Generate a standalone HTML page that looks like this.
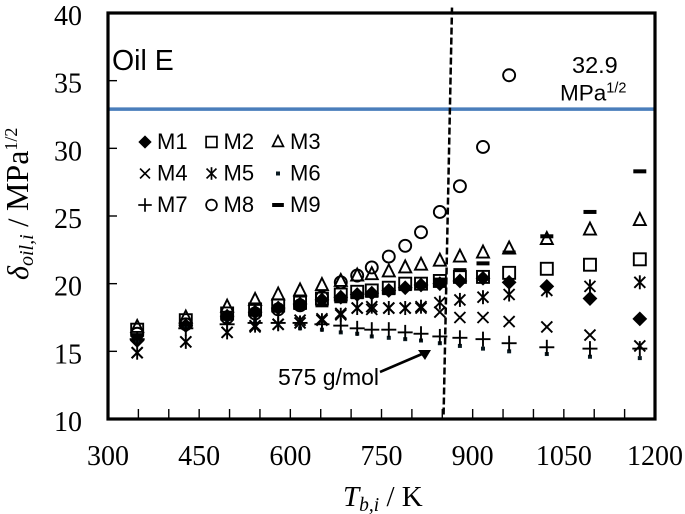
<!DOCTYPE html>
<html>
<head>
<meta charset="utf-8">
<style>
html,body{margin:0;padding:0;background:#fff;width:685px;height:514px;overflow:hidden}
svg{display:block}
.tick{font:28px "Liberation Serif",serif;fill:#000}
.sans{font-family:"Liberation Sans",sans-serif;fill:#000}
.serif{font-family:"Liberation Serif",serif;fill:#000}
</style>
</head>
<body>
<svg id="chart" width="685" height="514" viewBox="0 0 685 514" xmlns="http://www.w3.org/2000/svg">
<g id="ticks"></g>
<g id="marks"></g>
<line id="blue-line" stroke="#4a7ebb" stroke-width="3.5"></line>
<line id="dash-line" stroke="#000" stroke-width="2.5" stroke-dasharray="7 3"></line>
<rect id="frame" fill="none" stroke="#000" stroke-width="3.2"></rect>
<g id="legend"></g>
<text class="sans" x="112" y="70" font-size="28.5">Oil E</text>
<text class="sans" x="572" y="73" font-size="23.5">32.9</text>
<text class="sans" x="560" y="100.5" font-size="22.5">MPa<tspan font-size="14.5" dy="-8">1/2</tspan></text>
<text class="sans" x="278" y="385" font-size="23">575 g/mol</text>
<g>
<line x1="380" y1="372" x2="422" y2="354" stroke="#000" stroke-width="2.6"></line>
<polygon points="431,350 418,350 425,360" fill="#000"></polygon>
</g>
<text class="serif" x="343" y="506" font-size="29"><tspan font-style="italic">T</tspan><tspan font-style="italic" font-size="19.5" dy="5">b,i</tspan><tspan dy="-5"> / K</tspan></text>
<text class="serif" transform="translate(28,280) rotate(-90)" font-size="30"><tspan font-style="italic">δ</tspan><tspan font-style="italic" font-size="20" dy="5">oil,i</tspan><tspan dy="-5"> / </tspan><tspan font-size="32">MPa</tspan><tspan font-size="18" dy="-11">1/2</tspan></text>
</svg>
<script>
var tbValues = [348,428,496,542,580,616,652,683,710,734,762,789,815,846,879,917,960,1022,1093,1175];
var m1Values = [15.8,16.9,17.6,17.9,18.2,18.5,18.8,19.0,19.2,19.3,19.5,19.7,19.9,20.0,20.2,20.4,20.1,19.8,18.9,17.4];
var m2Values = [16.6,17.3,17.8,18.1,18.4,18.6,18.9,19.2,19.4,19.5,19.7,20.0,20.0,20.2,20.5,20.5,20.8,21.1,21.4,21.8];
var m3Values = [16.8,17.5,18.3,18.8,19.2,19.5,19.9,20.2,20.6,20.7,20.9,21.2,21.4,21.7,22.0,22.3,22.6,23.3,24.0,24.7];
var m4Values = [14.9,15.7,16.4,16.8,17.0,17.3,17.4,17.8,18.2,18.1,18.2,18.2,18.2,17.9,17.5,17.5,17.2,16.8,16.2,15.4];
var m5Values = [14.9,15.7,16.4,16.9,17.0,17.1,17.3,17.7,18.2,18.3,18.2,18.2,18.3,18.6,18.8,19.0,19.2,19.5,19.8,20.1];
var m6Values = [15.8,16.9,17.2,17.2,17.0,16.7,16.6,16.4,16.3,16.1,16.0,15.9,15.8,15.6,15.4,15.2,15.0,14.8,14.6,14.5];
var m7Values = [15.9,16.7,17.0,17.1,17.1,17.1,17.0,16.9,16.7,16.6,16.6,16.4,16.3,16.1,16.0,15.9,15.6,15.3,15.2,15.2];
var m8Values = [16.3,17.0,17.5,17.8,18.1,18.4,19.0,20.1,20.6,21.2,22.0,22.8,23.8,25.3,27.2,30.1,35.4,null,null,null];
var m9Values = [16.2,17.0,17.4,17.7,18.0,18.2,18.4,18.7,19.0,19.1,19.3,19.6,19.8,20.3,21.0,21.5,22.3,23.5,25.3,28.3];
var seriesNames = ['M1','M2','M3','M4','M5','M6','M7','M8','M9'];
var xTickLabels = [300,450,600,750,900,1050,1200];
var yTickLabels = [10,15,20,25,30,35,40];
var xMinorTicks = [350,400,450,500,550,600,650,700,750,800,850,900,950,1000,1050,1100,1150];
var referenceValue = [32.9];
var boundaryTop = [40.4, 866];
var boundaryBottom = [10, 852];

var NS = 'http://www.w3.org/2000/svg';
var L = 108, R = 655, T = 13, B = 419;
function xScale(v){ return L + (v - 300) * (R - L) / 900; }
function yScale(v){ return B - (v - 10) * (B - T) / 30; }
function make(tag, attrs, parent){
  var el = document.createElementNS(NS, tag);
  for (var k in attrs) el.setAttribute(k, attrs[k]);
  parent.appendChild(el);
  return el;
}
function drawMarker(type, x, y, g, s){
  var sw = 1.9 * s, r;
  var stroke = {fill:'none', stroke:'#000', 'stroke-width':sw};
  function seg(x1,y1,x2,y2){
    make('line', {x1:x+x1*s, y1:y+y1*s, x2:x+x2*s, y2:y+y2*s, stroke:'#000', 'stroke-width':sw}, g);
  }
  if (type === 'M1') {
    r = 7.4 * s;
    make('polygon', {points:[x,y-r,x+r,y,x,y+r,x-r,y].join(' '), fill:'#000'}, g);
  } else if (type === 'M2') {
    r = 6 * s;
    make('rect', {x:x-r, y:y-r, width:2*r, height:2*r, fill:'none', stroke:'#000', 'stroke-width':sw}, g);
  } else if (type === 'M3') {
    r = 6 * s;
    make('polygon', Object.assign({points:[x,y-r-1,x+r,y+r-1,x-r,y+r-1].join(' ')}, stroke), g);
  } else if (type === 'M4') {
    seg(-5.5,-5.5,5.5,5.5); seg(-5.5,5.5,5.5,-5.5);
  } else if (type === 'M5') {
    seg(-5.5,-5.5,5.5,5.5); seg(-5.5,5.5,5.5,-5.5); seg(0,-7,0,7);
  } else if (type === 'M6') {
    make('rect', {x:x-2, y:y-2, width:4, height:4, fill:'#0a1a22'}, g);
  } else if (type === 'M7') {
    seg(-7.5,0,7.5,0); seg(0,-7.5,0,7.5);
  } else if (type === 'M8') {
    make('circle', Object.assign({cx:x, cy:y, r:6 * s}, stroke), g);
  } else if (type === 'M9') {
    make('rect', {x:x-6.5*s, y:y-2, width:13*s, height:4, fill:'#000'}, g);
  }
}

var ticksG = document.getElementById('ticks');
xMinorTicks.forEach(function(v){
  var t = make('line', {x1:xScale(v), x2:xScale(v), y1:B, y2:B-10, stroke:'#000', 'stroke-width':1.4}, ticksG);
  
  
});
yTickLabels.forEach(function(v){
  var t = make('line', {x1:L, x2:L+9, y1:yScale(v), y2:yScale(v), stroke:'#000', 'stroke-width':1.4}, ticksG);
  
  
  var lab = make('text', {x:82, y:yScale(v)+12, 'text-anchor':'end', 'class':'tick'}, ticksG);
  lab.textContent = v;
  
  
});
xTickLabels.forEach(function(v){
  var lab = make('text', {x:xScale(v), y:465, 'text-anchor':'middle', 'class':'tick'}, ticksG);
  lab.textContent = v;
  
  
});

var frame = document.getElementById('frame');
frame.setAttribute('x', L); frame.setAttribute('y', T);
frame.setAttribute('width', R - L); frame.setAttribute('height', B - T);

var blue = document.getElementById('blue-line');
blue.setAttribute('x1', L); blue.setAttribute('x2', R);
blue.setAttribute('y1', yScale(referenceValue[0])); blue.setAttribute('y2', yScale(referenceValue[0]));

var dash = document.getElementById('dash-line');
dash.setAttribute('x1', xScale(boundaryTop[1])); dash.setAttribute('y1', yScale(boundaryTop[0]));
dash.setAttribute('x2', xScale(boundaryBottom[1])); dash.setAttribute('y2', yScale(boundaryBottom[0]));

var allSeries = [m1Values,m2Values,m3Values,m4Values,m5Values,m6Values,m7Values,m8Values,m9Values];
var marksG = document.getElementById('marks');
allSeries.forEach(function(vals, i){
  var g = make('g', {}, marksG);
  
  
  vals.forEach(function(v, j){
    if (v === null) return;
    drawMarker(seriesNames[i], xScale(tbValues[j]), yScale(v), g, 1);
  });
});

var legendG = document.getElementById('legend');
seriesNames.forEach(function(name, i){
  var col = i % 3, row = Math.floor(i / 3);
  var base = 149 + row * 31.5;
  var g = make('g', {}, legendG);
  
  
  var mx = 145 + col * 66.5;
  drawMarker(name, mx, base - 7, g, 0.9);
  var t = make('text', {x:(col === 2 ? 290 : 157 + col * 66.5), y:base, 'font-size':22, 'class':'sans'}, g);
  t.textContent = name;
});
</script>
</body>
</html>
